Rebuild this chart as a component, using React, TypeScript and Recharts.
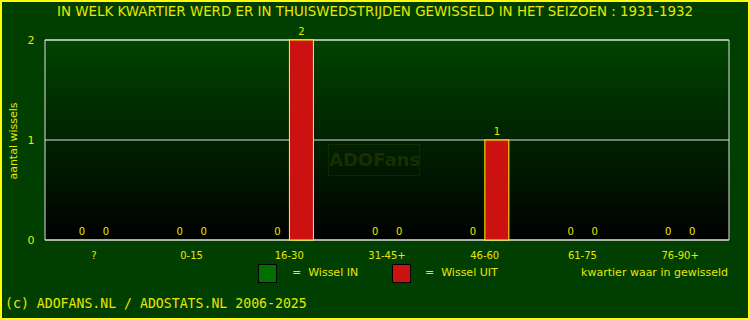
import { BarChart, Bar, XAxis, YAxis, CartesianGrid, ReferenceArea } from 'recharts'

// kwartieren en aantallen wissels
const kwartieren = ['?', '0-15', '16-30', '31-45+', '46-60', '61-75', '76-90+']
const wisselIn = [0, 0, 0, 0, 0, 0, 0]
const wisselUit = [0, 0, 2, 0, 1, 0, 0]
const yTicks = [0, 1, 2]

const YELLOW = '#e8e800'
const BG = '#003f00'

const data = kwartieren.map((k, i) => ({ name: k, in: wisselIn[i], uit: wisselUit[i] }))

const txt = { position: 'absolute' as const, color: YELLOW, fontFamily: 'DejaVu Sans', whiteSpace: 'nowrap' as const }

// staaf + waarde erboven (ook bij 0)
const barShape = (fill: string) => (props: any) => {
  const { x, y, width, height, value } = props
  const v = Array.isArray(value) ? value[1] - value[0] : value
  return (
    <g>
      {height > 0 && <rect x={x} y={y} width={width} height={height} fill={fill} stroke="#ffff00" strokeWidth={1} />}
      <text x={x + width / 2} y={y - 5} textAnchor="middle" fill={YELLOW} fontSize={10} fontFamily="DejaVu Sans">
        {v}
      </text>
    </g>
  )
}

export default function App() {
  return (
    <div style={{ position: 'fixed', left: 0, top: 0, width: 750, height: 320, background: BG, border: '2px solid #ffff00', boxSizing: 'border-box', overflow: 'hidden' }}>
      <div style={{ ...txt, left: 0, top: -2, width: 746, textAlign: 'center', fontSize: 13.4, lineHeight: '24px' }}>
        IN WELK KWARTIER WERD ER IN THUISWEDSTRIJDEN GEWISSELD IN HET SEIZOEN : 1931-1932
      </div>
      <div style={{ position: 'absolute', left: -2, top: -2 }}>
        <BarChart width={750} height={320} data={data} margin={{ top: 40, right: 21, bottom: 50, left: 15 }} barSize={24} barGap={0}>
          <defs>
            <linearGradient id="plotGrad" x1="0" y1="0" x2="0" y2="1">
              <stop offset="0%" stopColor="#004400" />
              <stop offset="100%" stopColor="#000000" />
            </linearGradient>
          </defs>
          <CartesianGrid fill="url(#plotGrad)" vertical={false} stroke="#e0e0e0" strokeWidth={1} />
          <ReferenceArea y1={0} y2={2} fill="none" stroke="#e0e0e0" strokeWidth={1} />
          <XAxis dataKey="name" height={30} axisLine={false} tickLine={false} tick={{ fill: YELLOW, fontSize: 10, fontFamily: 'DejaVu Sans' }} dy={4} />
          <YAxis
            width={30}
            domain={[0, 2]}
            ticks={yTicks}
            axisLine={false}
            tickLine={false}
            tick={({ y, payload }: any) => (
              <text x={31} y={y} textAnchor="middle" dominantBaseline="central" fill={YELLOW} fontSize={11} fontFamily="DejaVu Sans">
                {payload.value}
              </text>
            )}
          />
          <Bar dataKey="in" fill="#007000" shape={barShape('#007000')} isAnimationActive={false} />
          <Bar dataKey="uit" fill="#cc1111" shape={barShape('#cc1111')} isAnimationActive={false} />
        </BarChart>
      </div>
      {/* watermerk */}
      <div style={{ position: 'absolute', left: 326, top: 142, width: 90, height: 30, border: '1px solid rgba(90,100,0,0.2)', color: 'rgba(90,100,0,0.28)', fontFamily: 'DejaVu Sans', fontWeight: 'bold', fontSize: 18, lineHeight: '30px', textAlign: 'center' }}>
        ADOFans
      </div>
      <div style={{ ...txt, left: 14 - 2 - 40, top: 141 - 2 - 8, width: 80, height: 16, fontSize: 11, lineHeight: '16px', textAlign: 'center', transform: 'rotate(-90deg)' }}>
        aantal wissels
      </div>
      {/* legenda */}
      <div style={{ position: 'absolute', left: 256, top: 262, width: 17, height: 17, background: '#007000', border: '1px solid #000' }} />
      <div style={{ ...txt, left: 290, top: 264, fontSize: 11 }}>=&nbsp; Wissel IN</div>
      <div style={{ position: 'absolute', left: 390, top: 262, width: 17, height: 17, background: '#cc1111', border: '1px solid #000' }} />
      <div style={{ ...txt, left: 423, top: 264, fontSize: 11 }}>=&nbsp; Wissel UIT</div>
      <div style={{ ...txt, right: 20, top: 264, fontSize: 11 }}>kwartier waar in gewisseld</div>
      <div style={{ ...txt, left: 3, top: 294, fontSize: 13.2, fontFamily: 'DejaVu Sans Mono' }}>(c) ADOFANS.NL / ADOSTATS.NL 2006-2025</div>
    </div>
  )
}
